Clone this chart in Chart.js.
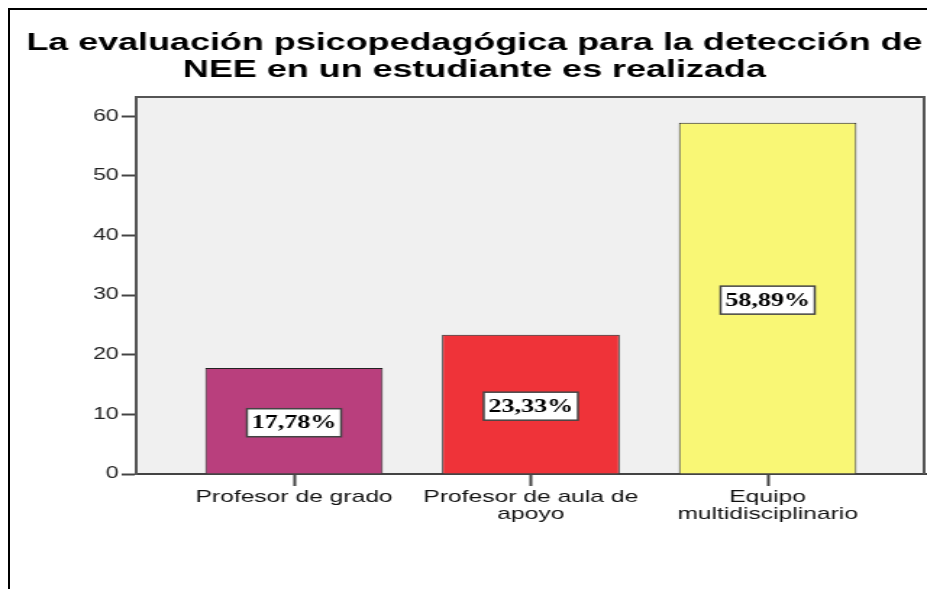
<!DOCTYPE html>
<html>
<head>
<meta charset="utf-8">
<script src="https://cdn.jsdelivr.net/npm/chart.js@4.4.1/dist/chart.umd.min.js"></script>
<style>
  html, body { margin: 0; padding: 0; background: #fff; overflow: hidden; }
  #marco { position: absolute; left: 8px; top: 8px; width: 960px; height: 620px; border-left: 2px solid #000; border-top: 2px solid #000; }
  /* la figura original está estirada a lo ancho */
  #wrap { position: absolute; left: 0; top: 0; width: 640px; height: 589px; transform: scaleX(1.4484); transform-origin: 0 0; }
</style>
</head>
<body>
<div id="marco"></div>
<div id="wrap"><canvas id="grafico"></canvas></div>
<script>
const titulo = ['La evaluación psicopedagógica para la detección de', 'NEE en un estudiante es realizada'];
const categorias = [['Profesor de grado'], ['Profesor de aula de', 'apoyo'], ['Equipo', 'multidisciplinario']];
const porcentajes = [17.78, 23.33, 58.89];
const etiquetas = ['17,78%', '23,33%', '58,89%'];
const colores = ['#b93f7d', '#ef3339', '#f9f775'];
const ticksY = [0, 10, 20, 30, 40, 50, 60];

const fuente = '"Liberation Sans", Arial, sans-serif';

const fondoPlot = {
  id: 'fondoPlot',
  beforeDraw(chart) {
    const { ctx, chartArea: a } = chart;
    ctx.save();
    ctx.fillStyle = '#f0f0f0';
    ctx.fillRect(a.left, a.top, a.width, a.height);
    ctx.restore();
  },
  afterDraw(chart) {
    const { ctx, chartArea: a } = chart;
    ctx.save();
    ctx.strokeStyle = '#555';
    ctx.lineWidth = 2;
    ctx.beginPath();
    ctx.moveTo(a.left, a.top);
    ctx.lineTo(a.right - 1, a.top);
    ctx.lineTo(a.right - 1, a.bottom);
    ctx.stroke();
    ctx.restore();
  }
};

const cajas = {
  id: 'cajas',
  afterDatasetsDraw(chart) {
    const { ctx } = chart;
    const meta = chart.getDatasetMeta(0);
    ctx.save();
    meta.data.forEach((bar, i) => {
      const cx = bar.x;
      const cy = (bar.y + bar.base) / 2 + 2;
      const w = 65, h = 28;
      ctx.fillStyle = '#fff';
      ctx.fillRect(cx - w / 2, cy - h / 2, w, h);
      ctx.strokeStyle = '#444';
      ctx.lineWidth = 1.5;
      ctx.strokeRect(cx - w / 2, cy - h / 2, w, h);
      ctx.fillStyle = '#000';
      ctx.font = 'bold 18px "Liberation Serif", "Times New Roman", serif';
      ctx.textAlign = 'center';
      ctx.textBaseline = 'middle';
      ctx.fillText(etiquetas[i], cx, cy + 1);
    });
    ctx.restore();
  }
};

new Chart(document.getElementById('grafico'), {
  type: 'bar',
  data: {
    datasets: [{
      data: porcentajes.map((v, i) => ({ x: i, y: v })),
      backgroundColor: colores,
      borderColor: '#222',
      borderWidth: 1,
      barPercentage: 0.75,
      categoryPercentage: 1
    }]
  },
  options: {
    responsive: true,
    maintainAspectRatio: false,
    animation: false,
    layout: { padding: { left: 16, right: 1, top: 0, bottom: 0 } },
    plugins: {
      legend: { display: false },
      tooltip: { enabled: false },
      title: {
        display: true,
        text: titulo,
        color: '#000',
        font: { family: fuente, size: 24.8, weight: 'bold', lineHeight: 1.09 },
        padding: { top: 30, bottom: 13 }
      }
    },
    scales: {
      x: {
        type: 'linear',
        min: -2 / 3,
        max: 8 / 3,
        offset: false,
        afterBuildTicks: (s) => { s.ticks = categorias.map((c, i) => ({ value: i })); },
        afterFit: (s) => { s.height = 115; },
        grid: { offset: false, drawOnChartArea: false, tickLength: 12, tickWidth: 2, tickColor: '#444' },
        border: { color: '#444', width: 2 },
        ticks: {
          callback: (v) => categorias[v],
          color: '#111',
          font: { family: fuente, size: 17, lineHeight: 1 },
          padding: 3,
          maxRotation: 0,
          autoSkip: false,
          includeBounds: false
        }
      },
      y: {
        min: 0,
        max: 63.2,
        afterBuildTicks: (s) => { s.ticks = ticksY.map((v) => ({ value: v })); },
        afterFit: (s) => { s.width = 78; },
        grid: { drawOnChartArea: false, tickLength: 10, tickWidth: 2, tickColor: '#444' },
        border: { color: '#555', width: 2 },
        ticks: { color: '#222', font: { family: fuente, size: 16 }, padding: 2, includeBounds: false }
      }
    }
  },
  plugins: [fondoPlot, cajas]
});
</script>
</body>
</html>
